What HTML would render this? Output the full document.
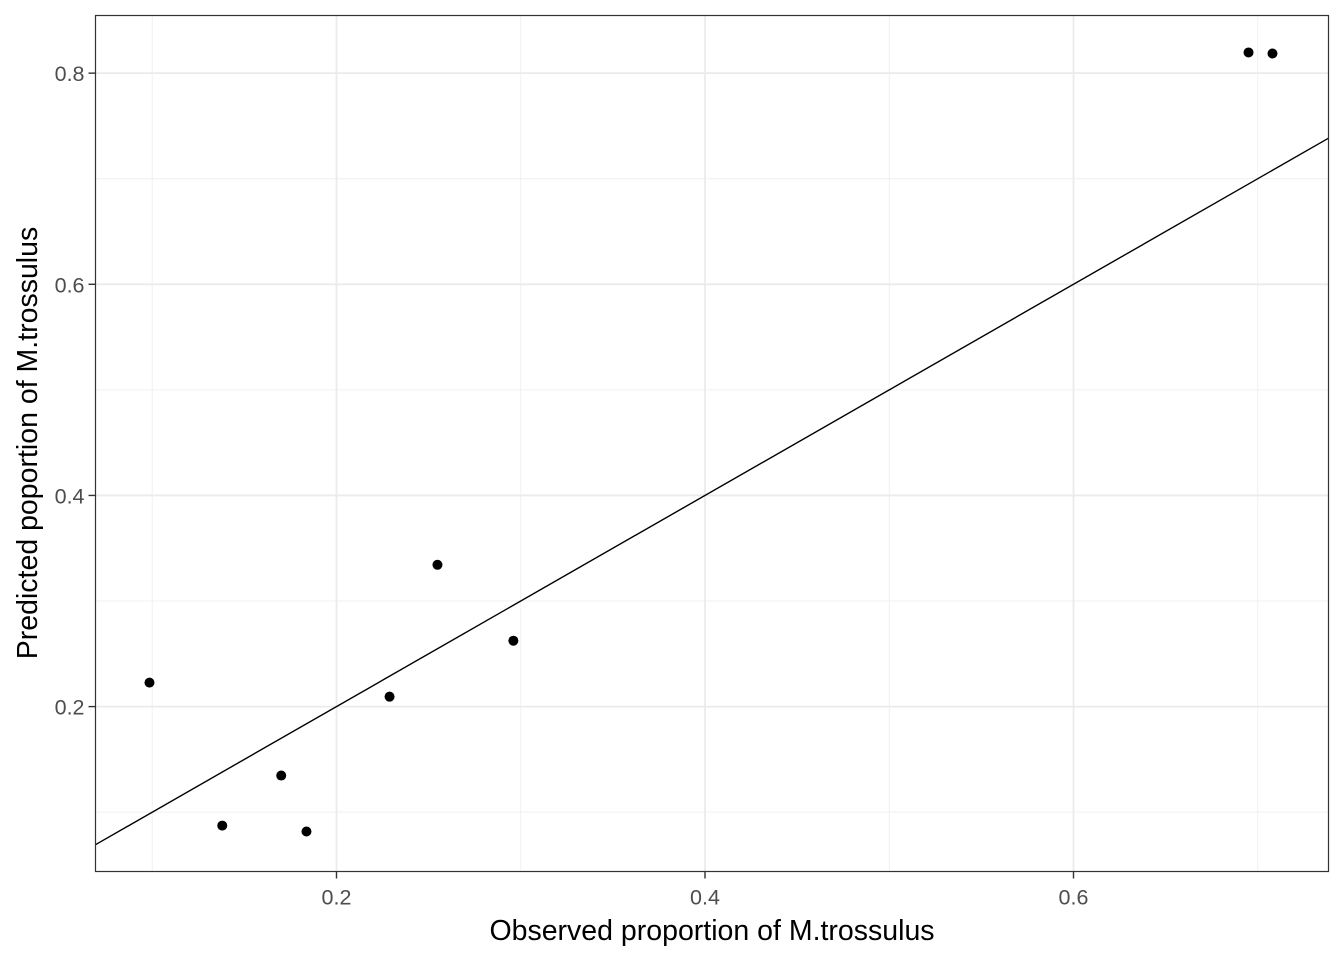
<!DOCTYPE html>
<html><head><meta charset="utf-8"><style>
body{margin:0;background:#fff;}
svg text{font-family:"Liberation Sans",Arial,sans-serif;}
</style></head><body>
<svg id="chart" width="1344" height="960" xmlns="http://www.w3.org/2000/svg">
<g id="grid"></g>
<line id="refline" stroke="#000" stroke-width="1.4"/>
<g id="pts"></g>
<rect x="95.5" y="15.5" width="1233" height="856" fill="none" stroke="#333" stroke-width="1.2"/>
<g id="ticks"></g>
<text x="712" y="940" font-size="28.5" text-anchor="middle" fill="#000">Observed proportion of M.trossulus</text>
<text transform="translate(37,443) rotate(-90)" font-size="28.5" text-anchor="middle" fill="#000">Predicted poportion of M.trossulus</text>
</svg>
<script>
const observed=[0.0985,0.138,0.170,0.1837,0.2288,0.2548,0.296,0.695,0.708];
const predicted=[0.2227,0.0873,0.1347,0.0817,0.2094,0.3343,0.2624,0.8196,0.8186];
const xTicks=[0.2,0.4,0.6];
const yTicks=[0.2,0.4,0.6,0.8];
const xMinor=[0.1,0.3,0.5,0.7];
const yMinor=[0.1,0.3,0.5,0.7];
const xDom=[0.0692,0.7384], yDom=[0.0438,0.8546];
const L=95.5,R=1328.5,T=15.5,B=871.5;
const sx=v=>L+(v-xDom[0])/(xDom[1]-xDom[0])*(R-L);
const sy=v=>B-(v-yDom[0])/(yDom[1]-yDom[0])*(B-T);
const NS="http://www.w3.org/2000/svg";
function mk(tag,attrs,parent){const e=document.createElementNS(NS,tag);for(const k in attrs)e.setAttribute(k,attrs[k]);parent.appendChild(e);return e;}
const grid=document.getElementById('grid'), ticks=document.getElementById('ticks'), pts=document.getElementById('pts');
xMinor.forEach(v=>{const e=mk('line',{x1:sx(v),x2:sx(v),y1:T,y2:B,stroke:'#f0f0f0','stroke-width':1},grid);

});
yMinor.forEach(v=>{const e=mk('line',{x1:L,x2:R,y1:sy(v),y2:sy(v),stroke:'#f0f0f0','stroke-width':1},grid);

});
xTicks.forEach(v=>{const e=mk('line',{x1:sx(v),x2:sx(v),y1:T,y2:B,stroke:'#ebebeb','stroke-width':1.8},grid);


const t=mk('line',{x1:sx(v),x2:sx(v),y1:B,y2:B+7,stroke:'#333','stroke-width':1.4},ticks);


const l=mk('text',{x:sx(v),y:B+33,'font-size':21.5,'text-anchor':'middle',fill:'#4d4d4d'},ticks);l.textContent=v.toFixed(1);

});
yTicks.forEach(v=>{const e=mk('line',{x1:L,x2:R,y1:sy(v),y2:sy(v),stroke:'#ebebeb','stroke-width':1.8},grid);


const t=mk('line',{x1:L-7,x2:L,y1:sy(v),y2:sy(v),stroke:'#333','stroke-width':1.4},ticks);


const l=mk('text',{x:L-11,y:sy(v)+8,'font-size':21.5,'text-anchor':'end',fill:'#4d4d4d'},ticks);l.textContent=v.toFixed(1);

});
const rl=document.getElementById('refline');
rl.setAttribute('x1',sx(xDom[0]));rl.setAttribute('y1',sy(xDom[0]));
rl.setAttribute('x2',sx(xDom[1]));rl.setAttribute('y2',sy(xDom[1]));
observed.forEach((v,i)=>{const c=mk('circle',{cx:sx(v),cy:sy(predicted[i]),r:5,fill:'#000'},pts);

});
</script>
</body></html>
